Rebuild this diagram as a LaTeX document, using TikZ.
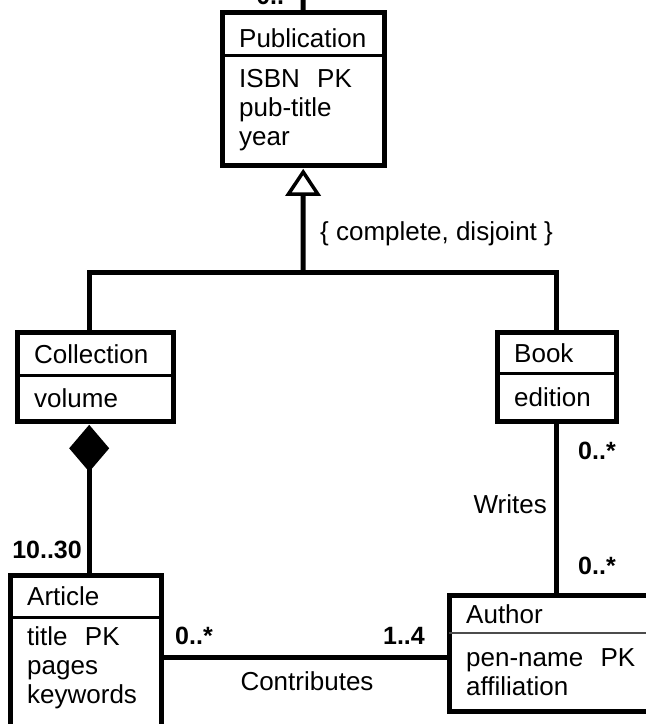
\documentclass[tikz,border=0pt]{standalone}
\usepackage{fontspec}
\setmainfont{Liberation Sans}
\usetikzlibrary{arrows.meta,positioning,calc}

\begin{document}
\begin{tikzpicture}[x=1pt,y=-1pt,
    font=\fontsize{26pt}{29pt}\selectfont,
    frame/.style={line width=5pt},
    sep/.style={line width=3pt},
    link/.style={line width=5pt},
    head/.style={anchor=north west,inner xsep=17pt,inner ysep=0pt,align=left},
    body/.style={anchor=north west,inner xsep=17pt,inner ysep=0pt,align=left},
    mult/.style={font=\fontsize{25pt}{28pt}\selectfont\bfseries,inner sep=0pt},
    lbl/.style={inner sep=0pt}]
    \useasboundingbox (0,0) rectangle (646,724);
    \clip (0,0) rectangle (646,724);

    \node[head,text width=128pt,minimum height=43pt,text height=28pt] (pubH) at (222,12) {Publication};
    \node[body,text width=128pt,minimum height=110pt] (pubB) at (pubH.south west) {ISBN\ \ PK\\pub-title\\year};
    \draw[frame] (pubH.north west) rectangle (pubB.south east);
    \draw[sep] (pubH.south west) -- (pubH.south east);

    \node[head,text width=122pt,minimum height=43pt] (colH) at (17,332) {Collection};
    \node[body,text width=122pt,minimum height=46pt] (colB) at (colH.south west) {volume};
    \draw[frame] (colH.north west) rectangle (colB.south east);
    \draw[sep] (colH.south west) -- (colH.south east);

    \node[head,text width=85pt,minimum height=41pt] (bookH) at (497,332) {Book};
    \node[body,text width=85pt,minimum height=48pt] (bookB) at (bookH.south west) {edition};
    \draw[frame] (bookH.north west) rectangle (bookB.south east);
    \draw[sep] (bookH.south west) -- (bookH.south east);

    \node[head,text width=117pt,minimum height=42pt] (artH) at (10,575) {Article};
    \node[body,text width=117pt,minimum height=100pt] (artB) at (artH.south west) {title\ \ PK\\pages\\keywords};
    \draw[frame] (artH.north west) rectangle ([yshift=-30pt]artB.south east);
    \draw[sep] (artH.south west) -- (artH.south east);

    \node[head,text width=186pt,minimum height=38pt] (authH) at (449,595) {Author};
    \node[body,text width=186pt,minimum height=78pt] (authB) at (authH.south west) {pen-name\ \ PK\\affiliation};
    \draw[frame] (authH.north west) rectangle (authB.south east);
    \draw[line width=2pt,black!70] (authH.south west) -- (authH.south east);

    % publication link leaving the top
    \coordinate (pubtop) at (303,-10);
    \draw[link] (pubH.north) -- (pubtop);
    \node[mult,anchor=base east] (mPub) at (294,4) {0..*};

    % generalization
    \coordinate (genjoin) at (303,272);
    \draw[link] ([xshift=-6pt]colH.north) |- (genjoin) -| (bookH.north);
    \draw[link,-{Triangle[open,length=27pt,width=35pt,line width=3.5pt]}] (genjoin) -- ([yshift=-3pt]pubB.south);
    \node[lbl,anchor=west] (gLbl) at (320,234) {\{ complete, disjoint \}};

    % composition
    \coordinate (colfoot) at ([shift={(-6pt,-3pt)}]colB.south);
    \draw[link,{Diamond[length=47pt,width=40pt]}-] (colfoot) -- (colfoot |- artH.north);
    \node[mult,anchor=east] (mCol) at (82,550) {10..30};

    % writes
    \draw[link] (bookB.south) -- (bookB.south |- authH.north);
    \node[mult,anchor=west] (mBook) at (578,451) {0..*};
    \node[mult,anchor=west] (mWriter) at (578,566) {0..*};
    \node[lbl,anchor=east] (wLbl) at (547,504) {Writes};

    % contributes
    \coordinate (artside) at ([yshift=-40pt]artB.north east);
    \draw[link] (artside) -- (artside -| authB.west);
    \node[mult,anchor=west] (mArt) at (175,636) {0..*};
    \node[mult,anchor=east] (mAuth) at (425,636) {1..4};
    \node[lbl] (cLbl) at (307,681) {Contributes};
\end{tikzpicture}
\end{document}
